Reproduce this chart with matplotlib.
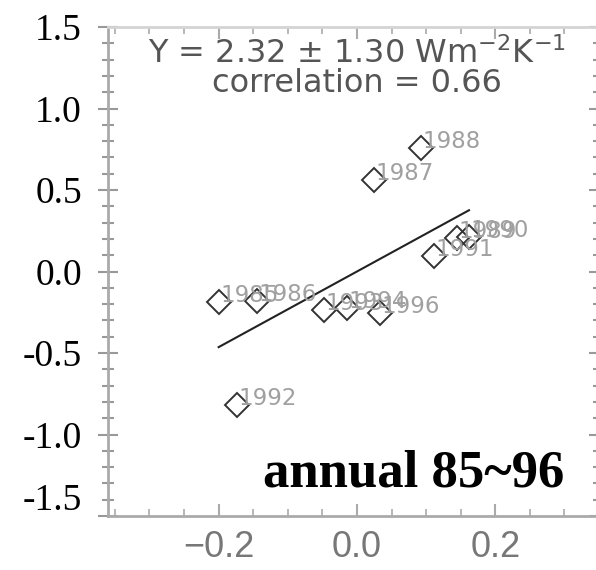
import matplotlib
matplotlib.use('Agg')
import matplotlib.pyplot as plt
import numpy as np
from matplotlib.ticker import MultipleLocator
from matplotlib.transforms import ScaledTranslation

# data ------------------------------------------------------------------------
years = ['1985', '1986', '1987', '1988', '1989', '1990',
         '1991', '1992', '1993', '1994', '1996']
x_vals = [-0.200, -0.144, 0.025, 0.092, 0.145, 0.162,
          0.112, -0.174, -0.048, -0.014, 0.034]
y_vals = [-0.19, -0.18, 0.56, 0.76, 0.205, 0.21,
          0.095, -0.82, -0.236, -0.224, -0.255]

slope = 2.32
intercept = 0.0

xticks = [-0.2, 0.0, 0.2]
xtick_labels = ['\u22120.2', '0.0', '0.2']
yticks = [-1.5, -1.0, -0.5, 0.0, 0.5, 1.0, 1.5]
ytick_labels = ['-1.5', '-1.0', '-0.5', '0.0', '0.5', '1.0', '1.5']

# figure ------------------------------------------------------------------------
fig = plt.figure(figsize=(5.96, 5.70), dpi=100)
ax = fig.add_axes([108 / 596, 54 / 570, 491 / 596, 489 / 570])

ax.set_xlim(-0.36, 0.35)
ax.set_ylim(-1.5, 1.5)

# scatter points and year labels
ax.plot(x_vals, y_vals, linestyle='none', marker='D', markersize=11.8,
        markerfacecolor='none', markeredgecolor='#333333', markeredgewidth=1.4)
for yr, xv, yv in zip(years, x_vals, y_vals):
    ax.annotate(yr, (xv, yv), xytext=(1, 0), textcoords='offset points',
                ha='left', va='baseline', fontsize=16.5, color='#a0a0a0',
                family='DejaVu Sans')

# regression line over the data range
xx = np.array([min(x_vals), max(x_vals)])
ax.plot(xx, slope * xx + intercept, color='#222222', linewidth=1.5)

# text ------------------------------------------------------------------------
ax.text(0.0, 1.28, r'Y = 2.32 $\pm$ 1.30 Wm$^{-2}$K$^{-1}$', ha='center',
        va='baseline', fontsize=23, color='#555555', family='DejaVu Sans')
ax.text(0.0, 1.10, 'correlation = 0.66', ha='center', va='baseline',
        fontsize=23, color='#555555', family='DejaVu Sans')
ax.text(0.30, -1.322, 'annual 85~96', ha='right', va='baseline',
        fontsize=38, fontweight='bold', family='Liberation Serif', color='black')

# axes styling ----------------------------------------------------------------
for side in ['left', 'bottom']:
    ax.spines[side].set_color('#aaaaaa')
    ax.spines[side].set_linewidth(2.0)
for side in ['top', 'right']:
    ax.spines[side].set_color('#d4d4d4')
    ax.spines[side].set_linewidth(2.0)

ax.set_xticks(xticks)
ax.set_xticklabels(xtick_labels, fontsize=26, color='#777777',
                   family='Liberation Sans')
ax.set_yticks(yticks)
ax.set_yticklabels(ytick_labels, fontsize=27, color='black',
                   family='Liberation Serif')
ax.xaxis.set_minor_locator(MultipleLocator(0.05))
ax.yaxis.set_minor_locator(MultipleLocator(0.1))

ax.tick_params(axis='x', which='both', direction='in', top=True, color='#aaaaaa')
ax.tick_params(axis='x', which='major', length=8.5, width=1.5, pad=10)
ax.tick_params(axis='x', which='minor', length=5, width=1.2)
ax.tick_params(axis='y', which='both', direction='inout', right=True, color='#999999')
ax.tick_params(axis='y', which='major', length=14.5, width=1.5, pad=11.5)
ax.tick_params(axis='y', which='minor', length=8, width=1.5)

# the bottom label sits a bit higher in the reference
lbl = ax.get_yticklabels()[0]
lbl.set_transform(lbl.get_transform() + ScaledTranslation(0, 0.19, fig.dpi_scale_trans))

fig.savefig('out.png', dpi=100)
